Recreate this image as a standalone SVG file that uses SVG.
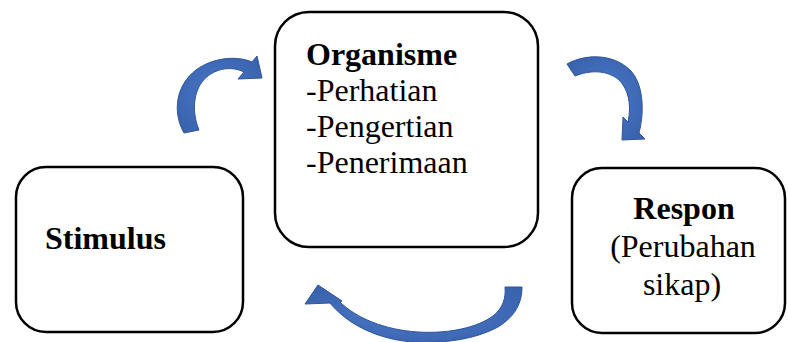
<svg xmlns="http://www.w3.org/2000/svg" width="788" height="342" viewBox="0 0 788 342">
<style>
.box{fill:#fff;stroke:#000;stroke-width:2.5}
.t{font-family:"Liberation Serif","Times New Roman",serif;font-size:32px;fill:#000}
.b{font-weight:bold}
.arr{fill:url(#g);stroke:#2F5597;stroke-width:1}
</style>
<defs>
<radialGradient id="g" cx="50%" cy="50%" r="60%">
<stop offset="0" stop-color="#4A78C8"/>
<stop offset="1" stop-color="#3A63AE"/>
</radialGradient>
</defs>
<g id="organisme">
<rect class="box" x="275" y="12" width="263" height="235" rx="34"/>
<text class="t b" x="306" y="65">Organisme</text>
<text class="t" x="306" y="101">-Perhatian</text>
<text class="t" x="306" y="137">-Pengertian</text>
<text class="t" x="306" y="173">-Penerimaan</text>
</g>
<g id="stimulus">
<rect class="box" x="16" y="167" width="227" height="165" rx="30"/>
<text class="t b" x="45" y="249">Stimulus</text>
</g>
<g id="respon">
<rect class="box" x="572" y="168" width="213" height="165" rx="30"/>
<text class="t b" x="684" y="219" text-anchor="middle">Respon</text>
<text class="t" x="683" y="257" text-anchor="middle">(Perubahan</text>
<text class="t" x="682" y="295" text-anchor="middle">sikap)</text>
</g>
<g id="connectors">
<path class="arr" d="M184,133 C172,112 176,85 196,70 C212,58 236,55 252,62 L257,56 L262,78 L238,79 L244,72 C230,65 212,69 202,82 C193,94 192,113 199,130 Z"/>
<path class="arr" d="M567,64 C585,54 612,53 630,70 C643,83 645,110 639,133 L645,139 L622,140 L623,117 L628,122 C632,104 628,88 618,79 C606,70 590,70 575,76 Z"/>
<path class="arr" d="M505,287 L522,287 C522,302 516,316 498,327 C476,339 444,344 412,342 C378,339 348,325 330,303 L305,304 L318,285 L342,301 L340,302 C356,318 385,330 418,332 C450,334 478,327 493,316 C503,308 506,298 505,287 Z"/>
</g>
</svg>
